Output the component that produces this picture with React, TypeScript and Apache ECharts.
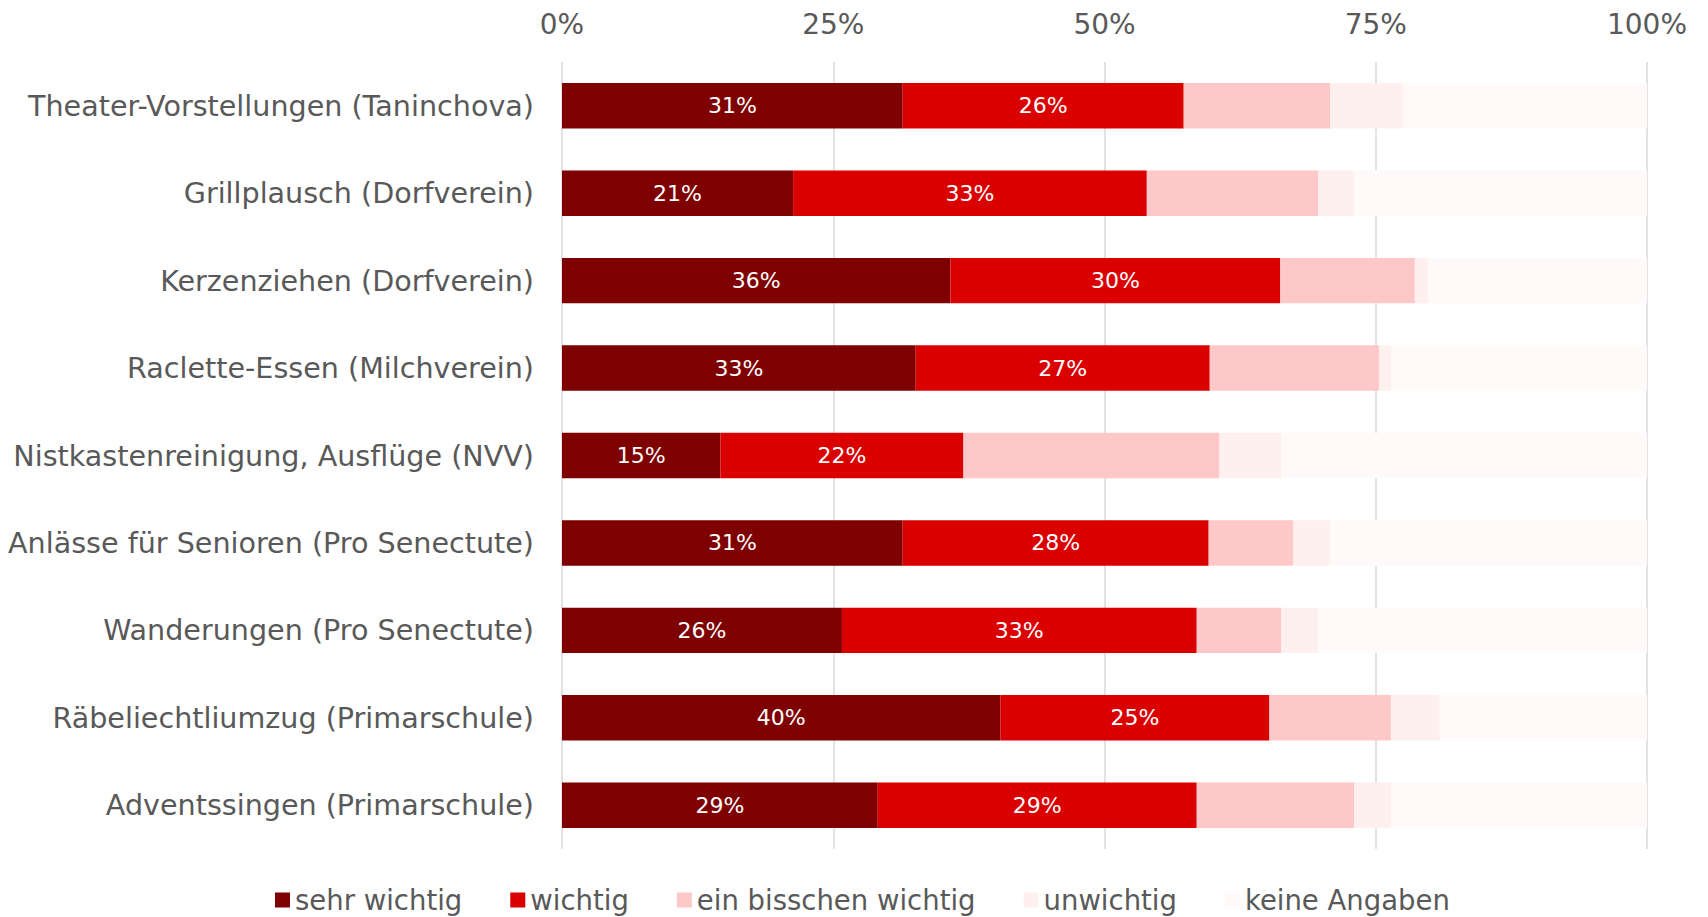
import React, { useEffect, useRef } from "react";
import * as echarts from "echarts";

const categories = [
  "Theater-Vorstellungen (Taninchova)",
  "Grillplausch (Dorfverein)",
  "Kerzenziehen (Dorfverein)",
  "Raclette-Essen (Milchverein)",
  "Nistkastenreinigung, Ausflüge (NVV)",
  "Anlässe für Senioren (Pro Senectute)",
  "Wanderungen (Pro Senectute)",
  "Räbeliechtliumzug (Primarschule)",
  "Adventssingen (Primarschule)",
];

const sehrWichtig = [31.4, 21.3, 35.8, 32.6, 14.6, 31.4, 25.8, 40.4, 29.1];
const wichtig = [25.9, 32.6, 30.4, 27.1, 22.4, 28.2, 32.7, 24.8, 29.4];
const einBisschen = [13.5, 15.8, 12.4, 15.6, 23.6, 7.8, 7.8, 11.2, 14.5];
const unwichtig = [6.7, 3.3, 1.2, 1.1, 5.7, 3.4, 3.4, 4.5, 3.4];
const keineAngaben = [22.5, 27.0, 20.2, 23.6, 33.7, 29.2, 30.3, 19.1, 23.6];

const seriesNames = ["sehr wichtig", "wichtig", "ein bisschen wichtig", "unwichtig", "keine Angaben"];
const seriesColors = ["#7F0000", "#DA0000", "#FFC8C8", "#FFF0F0", "#FFF9F9"];

const FONT = "DejaVu Sans";
const GREY = "#595959";

export default function App() {
  const ref = useRef<HTMLDivElement>(null);
  useEffect(() => {
    document.body.style.margin = "0";
    if (!ref.current) return;
    const chart = echarts.init(ref.current, undefined, { renderer: "svg" });
    const datasets = [sehrWichtig, wichtig, einBisschen, unwichtig, keineAngaben];
    chart.setOption({
      animation: false,
      textStyle: { fontFamily: FONT },
      grid: { left: 562, right: 61, top: 62, bottom: 68, containLabel: false },
      legend: {
        top: 881,
        left: 270,
        itemWidth: 15,
        itemHeight: 15,
        itemGap: 48,
        icon: "rect",
        textStyle: { color: GREY, fontSize: 27.5, fontFamily: FONT },
        data: seriesNames,
      },
      xAxis: {
        type: "value",
        position: "top",
        min: 0,
        max: 100,
        interval: 25,
        axisLine: { show: false },
        axisTick: { show: false },
        axisLabel: { formatter: "{value}%", color: GREY, fontSize: 28, fontFamily: FONT, margin: 24 },
        splitLine: { show: true, lineStyle: { color: "#D9D9D9", width: 1.5 } },
      },
      yAxis: {
        type: "category",
        data: categories,
        inverse: true,
        axisLine: { show: false },
        axisTick: { show: false },
        axisLabel: { color: GREY, fontSize: 28.6, fontFamily: FONT, margin: 28 },
      },
      series: datasets.map((d, i) => ({
        name: seriesNames[i],
        type: "bar",
        stack: "total",
        barWidth: "52%",
        data: d,
        itemStyle: { color: seriesColors[i] },
        label: {
          show: i < 2,
          position: "inside",
          color: "#FFFFFF",
          fontSize: 22,
          fontFamily: FONT,
          formatter: (p: any) => Math.round(p.value) + "%",
        },
      })),
    });
    return () => chart.dispose();
  }, []);
  return <div ref={ref} style={{ width: 1708, height: 917 }} />;
}
